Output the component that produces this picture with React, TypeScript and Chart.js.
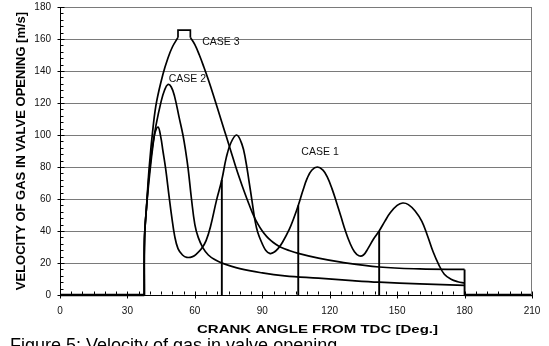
import React, { useEffect, useRef } from "react";
import { Chart, registerables } from "chart.js";

Chart.register(...registerables);

// ---- Data ----
const case1Angle = [37.5, 37.6, 38.5, 40, 42, 43.6, 44.8, 45.8, 47, 48.5, 49.7, 51, 52.5, 54.5, 56.4, 59, 61, 63, 65, 67, 69.6, 72, 74, 76, 78.6, 81, 82.5, 84, 85.5, 86.7, 88, 90, 91.5, 93.3, 95, 97, 99, 102, 104, 106, 108, 110, 112, 114.5, 117, 119, 121, 123, 125, 127, 129, 131, 133, 135, 137, 139.5, 142, 144.5, 147, 150, 152.5, 155, 158, 161, 163.5, 166, 168.5, 171, 174, 177, 180];
const case1Velocity = [0, 35, 55, 80, 100, 105, 99, 90, 79, 62, 49, 37, 29, 25, 23.5, 24, 26, 29, 34, 43, 59, 72, 86, 95, 100, 94, 85, 72, 58, 47, 39, 32, 28, 26, 26.5, 29, 33, 41, 48, 56, 65, 73, 78, 80, 78, 73.5, 66.5, 58, 49, 40, 32.5, 27, 24.5, 25, 29, 35, 40, 46, 51.5, 56, 57.5, 56.5, 52.5, 46, 37, 27, 19, 13, 9.8, 8.3, 7.5];

const case2Angle = [37.5, 37.6, 38.5, 40, 41.5, 42.7, 45, 46.5, 48, 49.5, 51, 53, 54.7, 56, 57, 58.5, 60, 61.5, 63.6, 66, 69, 72, 80, 90, 100, 115, 130, 142, 160, 180];
const case2Velocity = [0, 35, 55, 77, 95, 106, 121, 128, 131.5, 130, 124, 111, 100, 89, 79, 60, 44, 36, 29.5, 25, 22, 20, 16.5, 13.8, 12, 10.5, 9, 8, 7, 6];

const case3RiseAngle = [37.5, 37.6, 38.5, 39.7, 41.5, 43, 45.8, 48, 50, 52.5];
const case3RiseVelocity = [0, 35, 55, 80, 106, 121, 138, 148, 155, 161];
const case3PeakVelocity = 165.5;
const case3FallAngle = [58, 60, 62, 64, 66, 68, 70, 72, 74, 76, 78, 80, 82, 84, 86, 88, 90, 92, 94, 96, 98, 102, 106, 115, 125, 142, 160, 180];
const case3FallVelocity = [161, 156.5, 150, 142.5, 134.5, 126, 117, 108, 99, 90, 81, 72.5, 64.5, 57, 50, 44.5, 40, 36.5, 33.8, 31.7, 30, 27.8, 26, 23, 20.5, 17.5, 16.3, 16];

// valve-event verticals (angle, height reached on CASE 1)
const valveAngle = [72, 106, 142];
const valveTop = [72, 56, 40];

// closed-valve stretches at zero velocity
const closedFrom = [0, 180];
const closedTo = [37.5, 210];

const caseNames = ["CASE 1", "CASE 2", "CASE 3"];
const caseLabelAngle = [115.7, 56.7, 71.6];
const caseLabelVelocity = [89, 135, 158];

const xTicks = [0, 30, 60, 90, 120, 150, 180, 210];
const yTicks = [0, 20, 40, 60, 80, 100, 120, 140, 160, 180];

const xTitle = "CRANK ANGLE FROM TDC [Deg.]";
const yTitle = "VELOCITY OF GAS IN VALVE OPENING [m/s]";
const caption = "Figure 5: Velocity of gas in valve opening";

const FONT = '"Liberation Sans", Arial, sans-serif';

const pts = (xs: number[], ys: number[]) => xs.map((x, i) => ({ x, y: ys[i] }));

const decorPlugin = {
  id: "decor",
  afterDraw(chart: any) {
    const { ctx, chartArea: a, scales } = chart;
    const xs = scales.x;
    const ys = scales.y;
    ctx.save();
    // right frame
    const rx = Math.round(a.right) - 0.5;
    ctx.strokeStyle = "#7a7a7a";
    ctx.lineWidth = 1;
    ctx.beginPath();
    ctx.moveTo(rx, a.top);
    ctx.lineTo(rx, a.bottom);
    ctx.stroke();

    ctx.strokeStyle = "#000";
    const lx = Math.round(a.left) + 0.5;
    const by = Math.round(a.bottom) - 0.5;
    ctx.beginPath();
    // y ticks: majors cross, minors inside
    for (let v = 0; v <= 180; v += 4) {
      const py = Math.round(ys.getPixelForValue(v)) + 0.5;
      if (v % 20 === 0) {
        ctx.moveTo(lx - 3, py);
        ctx.lineTo(lx + 4, py);
      } else {
        ctx.moveTo(lx, py);
        ctx.lineTo(lx + 3, py);
      }
    }
    // x ticks
    for (let v = 0; v <= 210; v += 5) {
      const px = Math.round(xs.getPixelForValue(v)) + 0.5;
      if (v % 30 === 0) {
        ctx.moveTo(px, by - 3);
        ctx.lineTo(px, by + 4);
      } else {
        ctx.moveTo(px, by - 3);
        ctx.lineTo(px, by);
      }
    }
    ctx.stroke();

    // case labels
    ctx.fillStyle = "#111";
    ctx.font = `10.5px ${FONT}`;
    ctx.textAlign = "center";
    ctx.textBaseline = "middle";
    caseNames.forEach((n, i) => {
      ctx.fillText(n, xs.getPixelForValue(caseLabelAngle[i]), ys.getPixelForValue(caseLabelVelocity[i]));
    });

    // x-axis title (the source figure is horizontally stretched)
    ctx.font = `bold 11px ${FONT}`;
    ctx.fillStyle = "#000";
    const w = ctx.measureText(xTitle).width;
    const sx = 241 / w;
    ctx.translate(317.5, 330);
    ctx.scale(sx, 1);
    ctx.fillText(xTitle, 0, 0);
    ctx.restore();
  },
};

export default function App() {
  const ref = useRef<HTMLCanvasElement>(null);

  useEffect(() => {
    if (!ref.current) return;
    const curve = (data: any[]) => ({
      data,
      borderColor: "#000",
      borderWidth: 1.7,
      pointRadius: 0,
      fill: false,
      tension: 0.4,
      clip: false as any,
    });
    const straight = (data: any[], w: number) => ({
      data,
      borderColor: "#000",
      borderWidth: w,
      pointRadius: 0,
      fill: false,
      tension: 0,
      clip: false as any,
    });

    const last3 = case3FallAngle.length - 1;
    const datasets: any[] = [
      curve(pts(case1Angle, case1Velocity)),
      curve(pts(case2Angle, case2Velocity)),
      curve(pts(case3RiseAngle, case3RiseVelocity)),
      curve(pts(case3FallAngle, case3FallVelocity)),
      straight(
        [
          { x: case3RiseAngle[case3RiseAngle.length - 1], y: case3RiseVelocity[case3RiseVelocity.length - 1] },
          { x: case3RiseAngle[case3RiseAngle.length - 1], y: case3PeakVelocity },
          { x: case3FallAngle[0], y: case3PeakVelocity },
          { x: case3FallAngle[0], y: case3FallVelocity[0] },
        ],
        1.7
      ),
      ...valveAngle.map((ang, i) => straight([{ x: ang, y: 0 }, { x: ang, y: valveTop[i] }], 1.9)),
      straight([{ x: case3FallAngle[last3], y: case3FallVelocity[last3] }, { x: case3FallAngle[last3], y: 0 }], 1.9),
      ...closedFrom.map((f, i) => straight([{ x: f, y: 0 }, { x: closedTo[i], y: 0 }], 2.5)),
    ];

    const chart = new Chart(ref.current, {
      type: "line",
      data: { datasets },
      options: {
        responsive: false,
        animation: false,
        layout: { padding: { left: 0, right: 17, top: 7, bottom: 0 } },
        plugins: { legend: { display: false }, tooltip: { enabled: false } },
        scales: {
          x: {
            type: "linear",
            min: 0,
            max: 210,
            afterBuildTicks: (s: any) => {
              s.ticks = xTicks.map((v) => ({ value: v }));
            },
            afterFit: (s: any) => {
              s.height = 51;
              s.paddingLeft = 0;
              s.paddingRight = 0;
            },
            grid: { display: false, drawTicks: false },
            border: { display: true, color: "#000", width: 1 },
            ticks: { color: "#111", font: { family: FONT, size: 10 }, padding: 10, maxRotation: 0 },
            title: { display: false, text: xTitle },
          },
          y: {
            type: "linear",
            min: 0,
            max: 180,
            afterBuildTicks: (s: any) => {
              s.ticks = yTicks.map((v) => ({ value: v }));
            },
            afterFit: (s: any) => {
              s.width = 60;
              s.paddingTop = 0;
              s.paddingBottom = 0;
            },
            grid: {
              display: true,
              drawTicks: false,
              color: (c: any) => (c.tick && c.tick.value === 0 ? "#000" : "#7a7a7a"),
              lineWidth: 1,
            },
            border: { display: true, color: "#000", width: 1 },
            ticks: { color: "#111", font: { family: FONT, size: 10 }, padding: 9 },
            title: {
              display: true,
              text: yTitle,
              color: "#000",
              font: { family: FONT, size: 13, weight: "bold" },
              padding: { top: 14, bottom: 0 },
            },
          },
        },
      },
      plugins: [decorPlugin],
    } as any);
    return () => chart.destroy();
  }, []);

  return (
    <div
      style={{
        position: "fixed",
        left: 0,
        top: 0,
        width: 549,
        height: 346,
        overflow: "hidden",
        background: "#fff",
      }}
    >
      <canvas ref={ref} width={549} height={346} style={{ display: "block" }} />
      <div
        style={{
          position: "absolute",
          left: 10,
          top: 336,
          fontFamily: FONT,
          fontSize: 18,
          lineHeight: "18px",
          whiteSpace: "nowrap",
          color: "#000",
        }}
      >
        {caption}
      </div>
    </div>
  );
}
